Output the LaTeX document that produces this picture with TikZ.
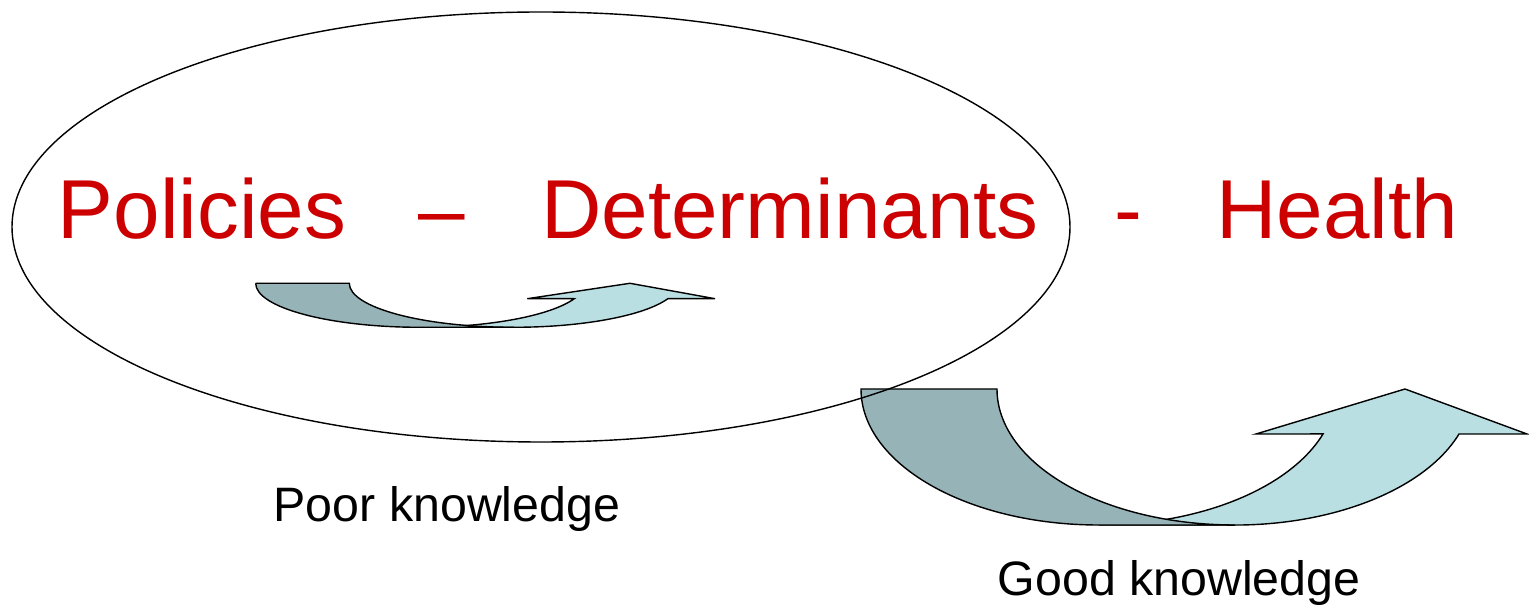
\documentclass[tikz,border=0pt]{standalone}
\usepackage{fontspec}
\setmainfont{Liberation Sans}
\definecolor{polred}{RGB}{204,0,0}
\definecolor{backteal}{RGB}{150,179,183}
\definecolor{frontteal}{RGB}{185,223,227}
\begin{document}
\begin{tikzpicture}[x=0.02cm,y=0.02cm,
		title/.style={text=polred,font=\fontsize{47.6}{57}\selectfont,inner sep=0,anchor=base},
		lbl/.style={font=\fontsize{27.5}{33}\selectfont,inner sep=0,anchor=base},
		back/.style={draw,fill=backteal,line width=0.8pt},
		front/.style={draw,fill=frontteal,line width=0.8pt}]
		\useasboundingbox (0,0) rectangle (1529,605);

		% Small arrow
		\draw[front] (420.2,277.7) arc[start angle=270,end angle=339.5,x radius=164.5,y radius=44]
			-- (527.3,306.3) -- (630,321.7) -- (715,306.3) -- (667.9,306.3)
			arc[start angle=339.5,end angle=270,x radius=164.5,y radius=44] -- cycle;
		\draw[back] (255.7,321.7) -- (349.3,321.7)
			arc[start angle=180,end angle=270,x radius=164.5,y radius=44] -- (420.2,277.7)
			arc[start angle=270,end angle=180,x radius=164.5,y radius=44] -- cycle;

		% Large arrow
		\draw[front] (1098.7,80) arc[start angle=270,end angle=340.7,x radius=237.7,y radius=136]
			-- (1256,171) -- (1405,216) -- (1527,171) -- (1459,171)
			arc[start angle=340.7,end angle=270,x radius=237.7,y radius=136] -- cycle;
		\draw[back] (861,216) -- (997,216)
			arc[start angle=180,end angle=270,x radius=237.7,y radius=136] -- (1098.7,80)
			arc[start angle=270,end angle=180,x radius=237.7,y radius=136] -- cycle;

		% Ellipse
		\draw[line width=0.8pt] (541,378) ellipse [x radius=529,y radius=215];

		% Title
		\node[title] (policies) at (202,366.5) {Policies};
		\node[title] (dashone) at (442,366.5) {–};
		\node[title] (determinants) at (790,366.5) {Determinants};
		\node[title] (dashtwo) at (1128,366.5) {-};
		\node[title] (health) at (1337,366.5) {Health};

		% Labels
		\node[lbl] (poor) at (447,83) {Poor knowledge};
		\node[lbl] (good) at (1179,9) {Good knowledge};
	\end{tikzpicture}
\end{document}
